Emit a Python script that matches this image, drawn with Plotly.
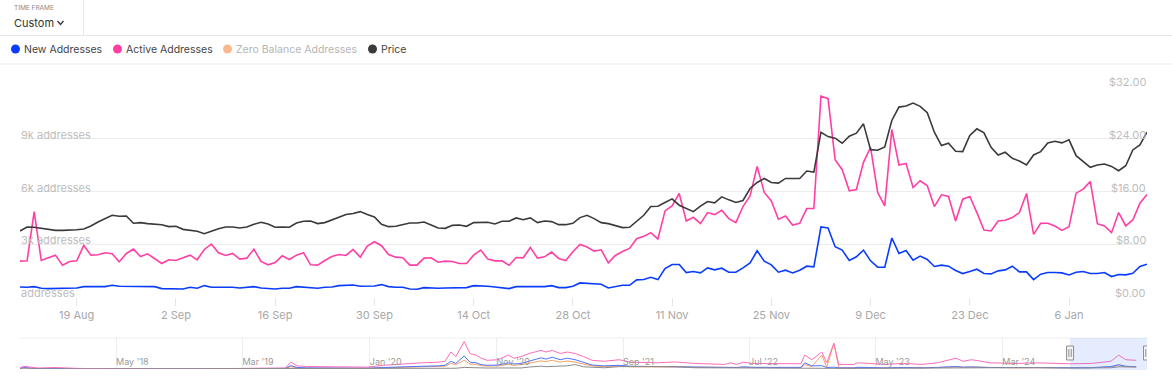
import pandas as pd
import plotly.graph_objects as go

W, H = 1172, 390


def px(x):
    return x / W


def py(y):
    return 1 - y / H


# ---------------- main chart data (daily, 2024-08-11 .. 2025-01-17) ----------------
dates = pd.date_range("2024-08-11", periods=160, freq="D")

new_addresses = [
    572, 552, 591, 495, 476, 476, 495, 514, 514, 591, 572, 591, 591, 667, 610, 610, 610, 610, 629, 591,
    476, 476, 476, 457, 552, 495, 648,
    552, 552, 572, 552, 514, 533, 591, 514, 495, 457, 495, 495, 591, 552, 533, 495, 552, 572, 648, 667,
    686, 610, 610, 629, 705, 591, 552,
    552, 457, 438, 533, 495, 495, 514, 514, 533, 533, 648, 648, 610, 572, 533, 476, 591, 591, 610, 572,
    591, 648, 533, 533, 610, 800,
    781, 762, 724, 514, 610, 667, 667, 972, 991, 1124, 991, 1619, 1848, 1848, 1391, 1448, 1372, 1657,
    1543, 1638, 1410, 1410, 1657, 1943, 2629, 2038, 1829,
    1410, 1524, 1372, 1524, 1753, 1715, 3981, 3924, 2858, 2667, 2076, 2286, 2667, 2057, 1695, 1695,
    3353, 2477, 2648, 2096, 2324, 2134, 1734, 1810, 1753, 1505,
    1334, 1448, 1581, 1334, 1314, 1486, 1543, 1753, 1429, 1429, 991, 1295, 1391, 1391, 1372, 1257,
    1410, 1448, 1334, 1334, 1391, 1162, 1276, 1257, 1353, 1734, 1867,
]

active_addresses = [
    2038, 2057, 4858, 2076, 2229, 2381, 1810, 2019, 2057, 2934, 2381, 2400, 2515, 2457, 2000, 2477,
    2724, 2305, 2457, 2172, 1905, 2115, 2076, 2229, 2381, 2115, 2705,
    3010, 2515, 2362, 2477, 2153, 2210, 2724, 2019, 1829, 1962, 2343, 2134, 2381, 2515, 1829, 1810,
    2076, 2305, 2419, 2362, 2705, 2267, 2896, 3143, 2915, 2419, 2267,
    2229, 1810, 1810, 2210, 2229, 1981, 2038, 2019, 1905, 1905, 2381, 2667, 2153, 2057, 2057, 1810,
    2248, 2229, 2819, 2210, 2286, 2553, 2191, 2076, 2572, 2991,
    2838, 2610, 2686, 1943, 2362, 2591, 2762, 3315, 3448, 3658, 3296, 4896, 5182, 5886, 4324, 4534,
    4172, 4801, 4686, 4934, 4458, 4229, 5144, 5753, 7430, 5944, 5467,
    4420, 4610, 4096, 4191, 5029, 5029, 11430, 11278, 7810, 7239, 6039, 6115, 7658, 8515, 5944, 5182,
    9525, 7506, 7601, 6229, 6610, 6325, 5144, 5810, 5715, 4324,
    5563, 5715, 4801, 3810, 3753, 4324, 4362, 4515, 4801, 5886, 3562, 4191, 4191, 4039, 3791, 4000,
    5906, 6134, 6572, 4172, 4039, 3658, 4801, 4039, 4382, 5334, 5829,
]

price = [
    10.01, 10.62, 10.57, 10.41, 10.16, 10.11, 10.11, 10.11, 10.21, 10.31, 10.77, 11.38, 11.84, 12.40,
    12.24, 12.29, 11.18, 11.28, 11.13, 11.07, 10.97, 10.67, 10.72, 10.26, 10.11, 9.96, 9.60,
    10.01, 10.36, 10.62, 10.62, 10.46, 10.62, 11.02, 11.33, 11.07, 10.57, 10.62, 10.57, 11.23, 11.48,
    11.53, 11.13, 11.28, 11.68, 12.09, 12.50, 12.65, 12.95, 12.50, 12.14, 11.02, 10.67, 10.72,
    11.02, 11.23, 11.23, 11.38, 10.92, 10.46, 10.41, 10.87, 10.92, 10.72, 11.28, 11.33, 11.33, 11.07,
    11.48, 11.48, 11.99, 11.73, 11.99, 11.28, 11.53, 11.43, 10.97, 10.97, 11.18, 12.04,
    12.40, 11.89, 11.28, 11.13, 10.77, 10.52, 10.57, 11.53, 12.40, 13.72, 13.77, 14.33, 14.88, 13.92,
    13.41, 12.95, 13.77, 14.48, 14.27, 15.19, 14.73, 14.33, 14.63, 16.46, 17.37, 17.98, 17.37,
    17.27, 17.98, 17.98, 17.98, 19.10, 18.95, 24.99, 24.33, 24.08, 23.32, 24.38, 24.84, 26.26, 22.35,
    22.25, 22.76, 26.77, 28.80, 28.96, 29.41, 28.91, 27.94, 24.99, 22.96, 23.32, 22.10,
    22.05, 24.49, 25.50, 24.89, 22.71, 21.54, 21.95, 21.03, 20.62, 20.02, 21.54, 22.05, 23.37, 23.62,
    23.37, 23.83, 21.44, 20.52, 19.66, 20.02, 20.17, 19.81, 19.15, 19.91, 22.30, 23.06, 24.99,
]

x_tick_dates = pd.date_range("2024-08-19", "2025-01-06", freq="14D")
left_tick_values = [0, 3000, 6000, 9000, 12000]
left_tick_labels = ["addresses", "3k addresses", "6k addresses", "9k addresses", ""]
right_tick_values = [0, 8, 16, 24, 32]
right_tick_labels = ["$0.00", "$8.00", "$16.00", "$24.00", "$32.00"]

# ---------------- navigator (full history) ----------------
nav_dates = [
    "2017-09-09", "2017-09-21", "2017-10-25", "2017-12-05", "2018-01-27", "2018-04-29", "2018-10-29",
    "2019-05-02", "2019-06-12", "2019-06-25", "2019-07-11", "2019-08-02", "2019-09-17", "2019-11-02",
    "2019-12-27", "2020-02-04", "2020-03-30", "2020-05-05", "2020-06-15", "2020-06-30", "2020-07-14",
    "2020-07-26", "2020-08-15", "2020-08-29", "2020-09-13", "2020-09-25", "2020-10-09", "2020-11-05",
    "2020-11-29", "2020-12-13", "2020-12-30", "2021-01-18", "2021-02-16", "2021-02-28", "2021-03-15",
    "2021-04-03", "2021-04-20", "2021-05-09", "2021-05-29", "2021-06-19", "2021-07-18", "2021-08-23",
    "2021-09-19", "2021-11-21", "2022-01-05", "2022-02-20", "2022-05-03", "2022-05-18", "2022-06-01",
    "2022-06-18", "2022-07-08", "2022-08-22", "2022-11-03", "2022-11-12", "2022-11-29", "2022-12-23",
    "2023-01-04", "2023-01-21", "2023-02-02", "2023-03-11", "2023-03-18", "2023-04-16", "2023-05-22",
    "2023-07-07", "2023-08-21", "2023-09-27", "2023-11-11", "2023-11-28", "2023-12-18", "2024-02-01",
    "2024-04-04", "2024-05-20", "2024-08-10", "2024-10-02", "2024-11-17", "2024-12-06", "2024-12-23",
    "2025-01-17",
]
nav_active = [
    500, 2200, 800, 1200, 500, 100, 100, 300, 800, 5500, 2500, 2000, 1800, 1500, 1500, 3000, 4500, 5000,
    5500, 6200, 13700, 10000, 22200, 12500, 11200, 8700, 7000, 7500, 11200, 8700, 10000, 12500, 15000,
    13700, 15000, 12500, 13700, 12500, 10000, 7000, 6200, 7500, 5500, 5000, 5700, 4500, 3700, 5000, 3700,
    5500, 4500, 4200, 4200, 11200, 7500, 13700, 5000, 20700, 3700, 3700, 5000, 4500, 3700, 4500, 3700,
    5000, 8700, 6200, 7500, 5000, 4500, 5000, 4200, 4500, 6200, 11200, 7500, 7000,
]
nav_new = [
    300, 1200, 400, 600, 300, 100, 100, 200, 500, 2700, 1200, 900, 800, 700, 700, 1200, 2000, 2200, 2500,
    3000, 6200, 4500, 10500, 5500, 5000, 3500, 3000, 3200, 5000, 4000, 4500, 6200, 9000, 8000, 9500, 7500,
    8700, 7500, 5500, 3200, 2500, 3000, 2200, 2000, 2200, 1700, 1300, 1800, 1200, 1800, 1400, 1300, 1300,
    5000, 2500, 2700, 1200, 1500, 900, 900, 1400, 1200, 900, 1200, 900, 1300, 2000, 1500, 1700, 1200, 1000,
    1200, 1000, 1100, 2000, 3500, 2200, 1800,
]
nav_zero = [
    200, 800, 300, 400, 200, 100, 100, 150, 300, 1800, 900, 700, 600, 500, 500, 900, 1500, 1700, 2000, 2300,
    4500, 3500, 7000, 4000, 3700, 2700, 2300, 2500, 3700, 3000, 3500, 4500, 6500, 6000, 7000, 5500, 6500,
    5500, 4200, 2500, 2000, 2300, 1800, 1600, 1800, 1400, 1100, 1500, 1000, 1500, 1200, 1100, 1100, 3500,
    2000, 11200, 1500, 20700, 1000, 800, 1200, 1000, 800, 1000, 800, 1100, 1700, 1300, 1500, 1000, 900,
    1000, 900, 1000, 1600, 2800, 1800, 1500,
]
nav_price = [
    0.20, 0.18, 0.20, 0.30, 1.00, 0.60, 0.45, 0.50, 1.30, 3.50, 3.00, 2.80, 1.80, 2.80, 1.80, 3.00, 2.00,
    3.80, 4.20, 4.50, 8.00, 8.50, 18.0, 15.0, 12.0, 9.0, 11.0, 11.5, 14.0, 13.0, 11.5, 22.0, 32.0, 26.0,
    30.0, 32.0, 36.0, 50.0, 25.0, 20.0, 14.0, 27.0, 28.0, 27.0, 28.0, 14.0, 12.0, 7.0, 7.5, 6.0, 6.0, 7.0,
    7.5, 6.5, 6.8, 5.5, 5.6, 7.0, 7.2, 6.3, 7.0, 7.6, 6.5, 6.0, 6.0, 7.5, 14.5, 14.0, 15.0, 17.0, 18.0,
    16.0, 10.0, 10.5, 14.0, 24.0, 22.0, 24.9,
]
nav_tick_dates = ["2018-05-01", "2019-03-01", "2020-01-01", "2020-11-01", "2021-09-01",
                  "2022-07-01", "2023-05-01", "2024-03-01"]
nav_tick_labels = ["May '18", "Mar '19", "Jan '20", "Nov '20", "Sep '21", "Jul '22", "May '23", "Mar '24"]
nav_range = ["2017-09-12", "2025-02-12"]
selection = ["2024-08-11", "2025-02-12"]

BLUE = "#0a3cff"
PINK = "#ff3fa4"
PEACH = "#f9b98c"
DARK = "#3a3a3a"

fig = go.Figure()

fig.add_trace(go.Scatter(x=dates, y=new_addresses, name="New Addresses", mode="lines",
                         line=dict(color=BLUE, width=1.6), xaxis="x", yaxis="y", hoverinfo="skip"))
fig.add_trace(go.Scatter(x=dates, y=active_addresses, name="Active Addresses", mode="lines",
                         line=dict(color=PINK, width=1.6), xaxis="x", yaxis="y", hoverinfo="skip"))
fig.add_trace(go.Scatter(x=dates, y=price, name="Price", mode="lines",
                         line=dict(color=DARK, width=1.6), xaxis="x", yaxis="y2", hoverinfo="skip"))

# navigator traces
fig.add_trace(go.Scatter(x=nav_dates, y=nav_price, mode="lines", line=dict(color="#8c8c8c", width=1),
                         xaxis="x3", yaxis="y4", hoverinfo="skip"))
fig.add_trace(go.Scatter(x=nav_dates, y=nav_zero, mode="lines", line=dict(color="#f5a062", width=1),
                         xaxis="x3", yaxis="y3", hoverinfo="skip"))
fig.add_trace(go.Scatter(x=nav_dates, y=nav_new, mode="lines", line=dict(color="#4f72ff", width=1),
                         xaxis="x3", yaxis="y3", hoverinfo="skip"))
fig.add_trace(go.Scatter(x=nav_dates, y=nav_active, mode="lines", line=dict(color="#ff6cb8", width=1),
                         xaxis="x3", yaxis="y3", hoverinfo="skip"))

label_font = dict(family="Inter, sans-serif", size=11, color="#bdbdbd")

fig.update_layout(
    width=W, height=H, margin=dict(l=0, r=0, t=0, b=0), autosize=False,
    paper_bgcolor="white", plot_bgcolor="white", showlegend=False,
    font=dict(family="Inter, sans-serif", color="#333"),
    xaxis=dict(domain=[px(20), px(1147)], anchor="y", type="date",
               range=[dates[0], dates[-1]], tickvals=list(x_tick_dates), tickformat="%-d %b",
               ticks="outside", ticklen=8, tickcolor="#e6e6e6", tickwidth=1,
               showgrid=False, zeroline=False, showline=False,
               tickfont=dict(family="Inter, sans-serif", size=11, color="#a8a8a8")),
    yaxis=dict(domain=[py(297), py(86)], anchor="x", range=[0, 12000],
               tickvals=left_tick_values, showticklabels=False,
               showgrid=True, gridcolor="#ececec", gridwidth=1,
               zeroline=False, showline=False, ticks=""),
    yaxis2=dict(overlaying="y", side="right", anchor="x", range=[0, 32],
                tickvals=right_tick_values, showticklabels=False,
                showgrid=False, zeroline=False, showline=False, ticks=""),
    xaxis3=dict(domain=[px(20), px(1147)], anchor="y3", type="date", range=nav_range,
                tickvals=nav_tick_dates, ticktext=nav_tick_labels, ticklabelposition="inside right",
                ticklabelstandoff=-4,
                showgrid=True, gridcolor="#eeeeee", ticks="", zeroline=False, showline=False,
                tickfont=dict(family="Inter, sans-serif", size=9, color="#9a9a9a")),
    yaxis3=dict(domain=[py(369), py(338)], anchor="x3", range=[0, 25000], showgrid=False,
                zeroline=False, showticklabels=False, ticks=""),
    yaxis4=dict(overlaying="y3", anchor="x3", range=[0, 350], showgrid=False, zeroline=False,
                showticklabels=False, ticks=""),
)

shapes = []
annotations = []

# axis labels drawn just above their grid lines (value-anchored)
for v, t in zip(left_tick_values, left_tick_labels):
    if t:
        annotations.append(dict(xref="paper", yref="y", x=px(19), y=v, xanchor="left", yanchor="bottom",
                                text=t, showarrow=False, yshift=-5, font=label_font))
for v, t in zip(right_tick_values, right_tick_labels):
    annotations.append(dict(xref="paper", yref="y2", x=px(1148), y=v, xanchor="right", yanchor="bottom",
                            text=t, showarrow=False, yshift=-5, font=label_font))

# header separators
shapes.append(dict(type="line", xref="paper", yref="paper", x0=0, x1=1, y0=py(35.5), y1=py(35.5),
                   line=dict(color="#e6e6e6", width=1)))
shapes.append(dict(type="line", xref="paper", yref="paper", x0=0, x1=1, y0=py(64), y1=py(64),
                   line=dict(color="#ececec", width=1)))
shapes.append(dict(type="line", xref="paper", yref="paper", x0=px(83.5), x1=px(83.5), y0=py(0), y1=py(35),
                   line=dict(color="#e6e6e6", width=1)))
# chevron of the dropdown
shapes.append(dict(type="path", xref="paper", yref="paper",
                   path=f"M {px(57.5)} {py(21)} L {px(60.5)} {py(24.5)} L {px(63.5)} {py(21)}",
                   line=dict(color="#333", width=1.3)))
# navigator top border
shapes.append(dict(type="line", xref="paper", yref="paper", x0=px(20), x1=px(1147), y0=py(338), y1=py(338),
                   line=dict(color="#eeeeee", width=1)))
# navigator selection mask
shapes.append(dict(type="rect", xref="x3", yref="paper", x0=selection[0], x1=selection[1],
                   y0=py(370), y1=py(338), fillcolor="rgba(110,150,245,0.18)", line=dict(width=0),
                   layer="above"))
# handles
for edge in selection:
    shapes.append(dict(type="rect", xref="x3", yref="paper", xsizemode="pixel", xanchor=edge,
                       x0=-3.5, x1=3.5, y0=py(360), y1=py(346), fillcolor="#f4f4f4",
                       line=dict(color="#8f8f8f", width=1), layer="above"))
    for off in (-1.2, 1.2):
        shapes.append(dict(type="line", xref="x3", yref="paper", xsizemode="pixel", xanchor=edge,
                           x0=off, x1=off, y0=py(357), y1=py(349),
                           line=dict(color="#8f8f8f", width=1), layer="above"))
# legend
legend_items = [
    (15.5, BLUE, "New Addresses", "#444"),
    (117.5, PINK, "Active Addresses", "#444"),
    (227.5, PEACH, "Zero Balance Addresses", "#b5b5b5"),
    (372.5, DARK, "Price", "#444"),
]
for cx, col, label, tcol in legend_items:
    shapes.append(dict(type="circle", xref="paper", yref="paper", x0=px(cx - 4.5), x1=px(cx + 4.5),
                       y0=py(53.5), y1=py(44.5), fillcolor=col, line=dict(width=0)))
    annotations.append(dict(xref="paper", yref="paper", x=px(cx + 6), y=py(49), xanchor="left",
                            yanchor="middle", text=label, showarrow=False,
                            font=dict(family="Inter, sans-serif", size=10.5, color=tcol)))

annotations.append(dict(xref="paper", yref="paper", x=px(11.5), y=py(8), xanchor="left", yanchor="middle",
                        text="TIME FRAME", showarrow=False,
                        font=dict(family="Inter, sans-serif", size=6.5, color="#8a8a8a")))
annotations.append(dict(xref="paper", yref="paper", x=px(11.5), y=py(22.5), xanchor="left", yanchor="middle",
                        text="Custom", showarrow=False,
                        font=dict(family="Inter, sans-serif", size=11, color="#333")))

fig.update_layout(shapes=shapes, annotations=annotations)

fig.write_html("out.html", config={"displayModeBar": False, "staticPlot": True},
               post_script="document.body.style.margin='0';document.body.style.padding='0';"
                           "document.documentElement.style.margin='0';")
